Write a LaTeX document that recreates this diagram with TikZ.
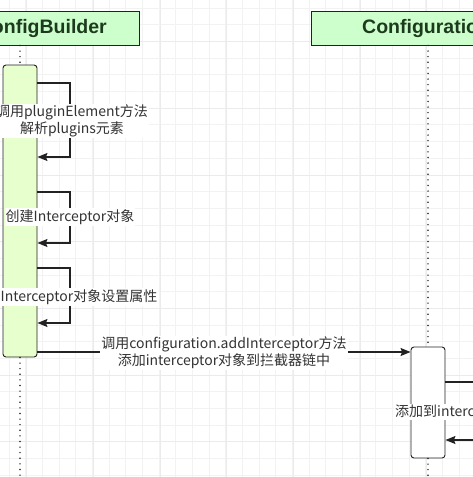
\documentclass[tikz,border=0pt]{standalone}
\usepackage{fontspec}
\setmainfont{Noto Sans CJK SC}
\newfontfamily\hdfont{Liberation Sans}
\usetikzlibrary{arrows.meta}
\definecolor{hdfill}{HTML}{CCFFCC}
\definecolor{actfill}{HTML}{E6FFCC}
\definecolor{hdtext}{HTML}{1E3A1E}
\definecolor{ln}{HTML}{222222}
\tikzset{
  header/.style={draw=ln, line width=0.9pt, fill=hdfill, minimum height=34pt, inner sep=0pt},
  hdlabel/.style={font=\hdfont\bfseries\fontsize{19.5}{23}\selectfont, text=hdtext, inner sep=0pt},
  actbox/.style={draw=ln, line width=0.9pt, rounded corners=3pt, minimum width=34pt, inner sep=0pt},
  life/.style={draw=ln, line width=1.6pt, line cap=round, dash pattern=on 0pt off 5.6pt},
  msg/.style={draw=ln, line width=1.2pt},
  arr/.style={msg, -{Stealth[inset=1.5pt, length=10pt, width=8pt]}},
  lbl/.style={fill=white, inner sep=1pt, align=center, font=\fontsize{14}{17}\selectfont, text=black!80},
  minorgrid/.style={draw=black!5, line width=0.8pt},
  majorgrid/.style={draw=black!8, line width=0.8pt}
}
\begin{document}
\begin{tikzpicture}[x=1pt,y=-1pt]
\useasboundingbox (0,0) rectangle (473,477);
\clip (0,0) rectangle (473,477);
\fill[white] (0,0) rectangle (473,477);
% grid
\foreach \i in {0,...,28} {
  \draw[minorgrid] ({9+16.67*\i},0) -- ({9+16.67*\i},477);
  \draw[minorgrid] (0,{8.2+16.67*\i}) -- (473,{8.2+16.67*\i});
}
\foreach \i in {0,...,7} {
  \draw[majorgrid] ({26.6+66.67*\i},0) -- ({26.6+66.67*\i},477);
  \draw[majorgrid] (0,{41.6+66.67*\i}) -- (473,{41.6+66.67*\i});
}
% headers
\node[header, minimum width=238pt] (h1) at (20,28) {};
\node[hdlabel, anchor=east] (h1t) at (107,28) {XMLConfigBuilder};
\node[header, minimum width=234pt] (h2) at (428,28) {};
\node[hdlabel, anchor=west] (h2t) at (362,28) {Configuration};
% activations
\node[actbox, fill=actfill, minimum height=292pt] (a1) at (20,211) {};
\node[actbox, fill=white, minimum height=111pt] (a2) at (428,402.5) {};
% lifelines
\coordinate (e1) at (20,480);
\coordinate (e2) at (428,480);
\draw[life] (h1.south) -- (a1.north);
\draw[life] (a1.south) -- (e1);
\draw[life] (h2.south) -- (a2.north);
\draw[life] (a2.south) -- (e2);
% self calls on a1
\coordinate (s1t) at (70,83);  \coordinate (s1b) at (70,157);
\coordinate (s2t) at (70,192); \coordinate (s2b) at (70,243);
\coordinate (s3t) at (70,268); \coordinate (s3b) at (70,323);
\draw[arr] (a1.east |- s1t) -- (s1t) -- (s1b) -- (a1.east |- s1b);
\draw[arr] (a1.east |- s2t) -- (s2t) -- (s2b) -- (a1.east |- s2b);
\draw[arr] (a1.east |- s3t) -- (s3t) -- (s3b) -- (a1.east |- s3b);
\node[lbl] (l1) at (72,121) {调用pluginElement方法\\解析plugins元素};
\node[lbl] (l2) at (70,217) {创建Interceptor对象};
\node[lbl] (l3) at (72,297) {为Interceptor对象设置属性};
% message to configuration
\coordinate (m1) at (0,352);
\draw[arr] (a1.east |- m1) -- (a2.west |- m1);
\node[lbl] (l4) at (224,353) {调用configuration.addInterceptor方法\\添加interceptor对象到拦截器链中};
% right side calls
\coordinate (r1) at (480,382);
\coordinate (r2) at (480,440);
\draw[msg] (a2.east |- r1) -- (r1);
\draw[arr] (r2) -- (a2.east |- r2);
\node[lbl, anchor=west] (l5) at (394,412) {添加到interceptorChain中};
\end{tikzpicture}
\end{document}
